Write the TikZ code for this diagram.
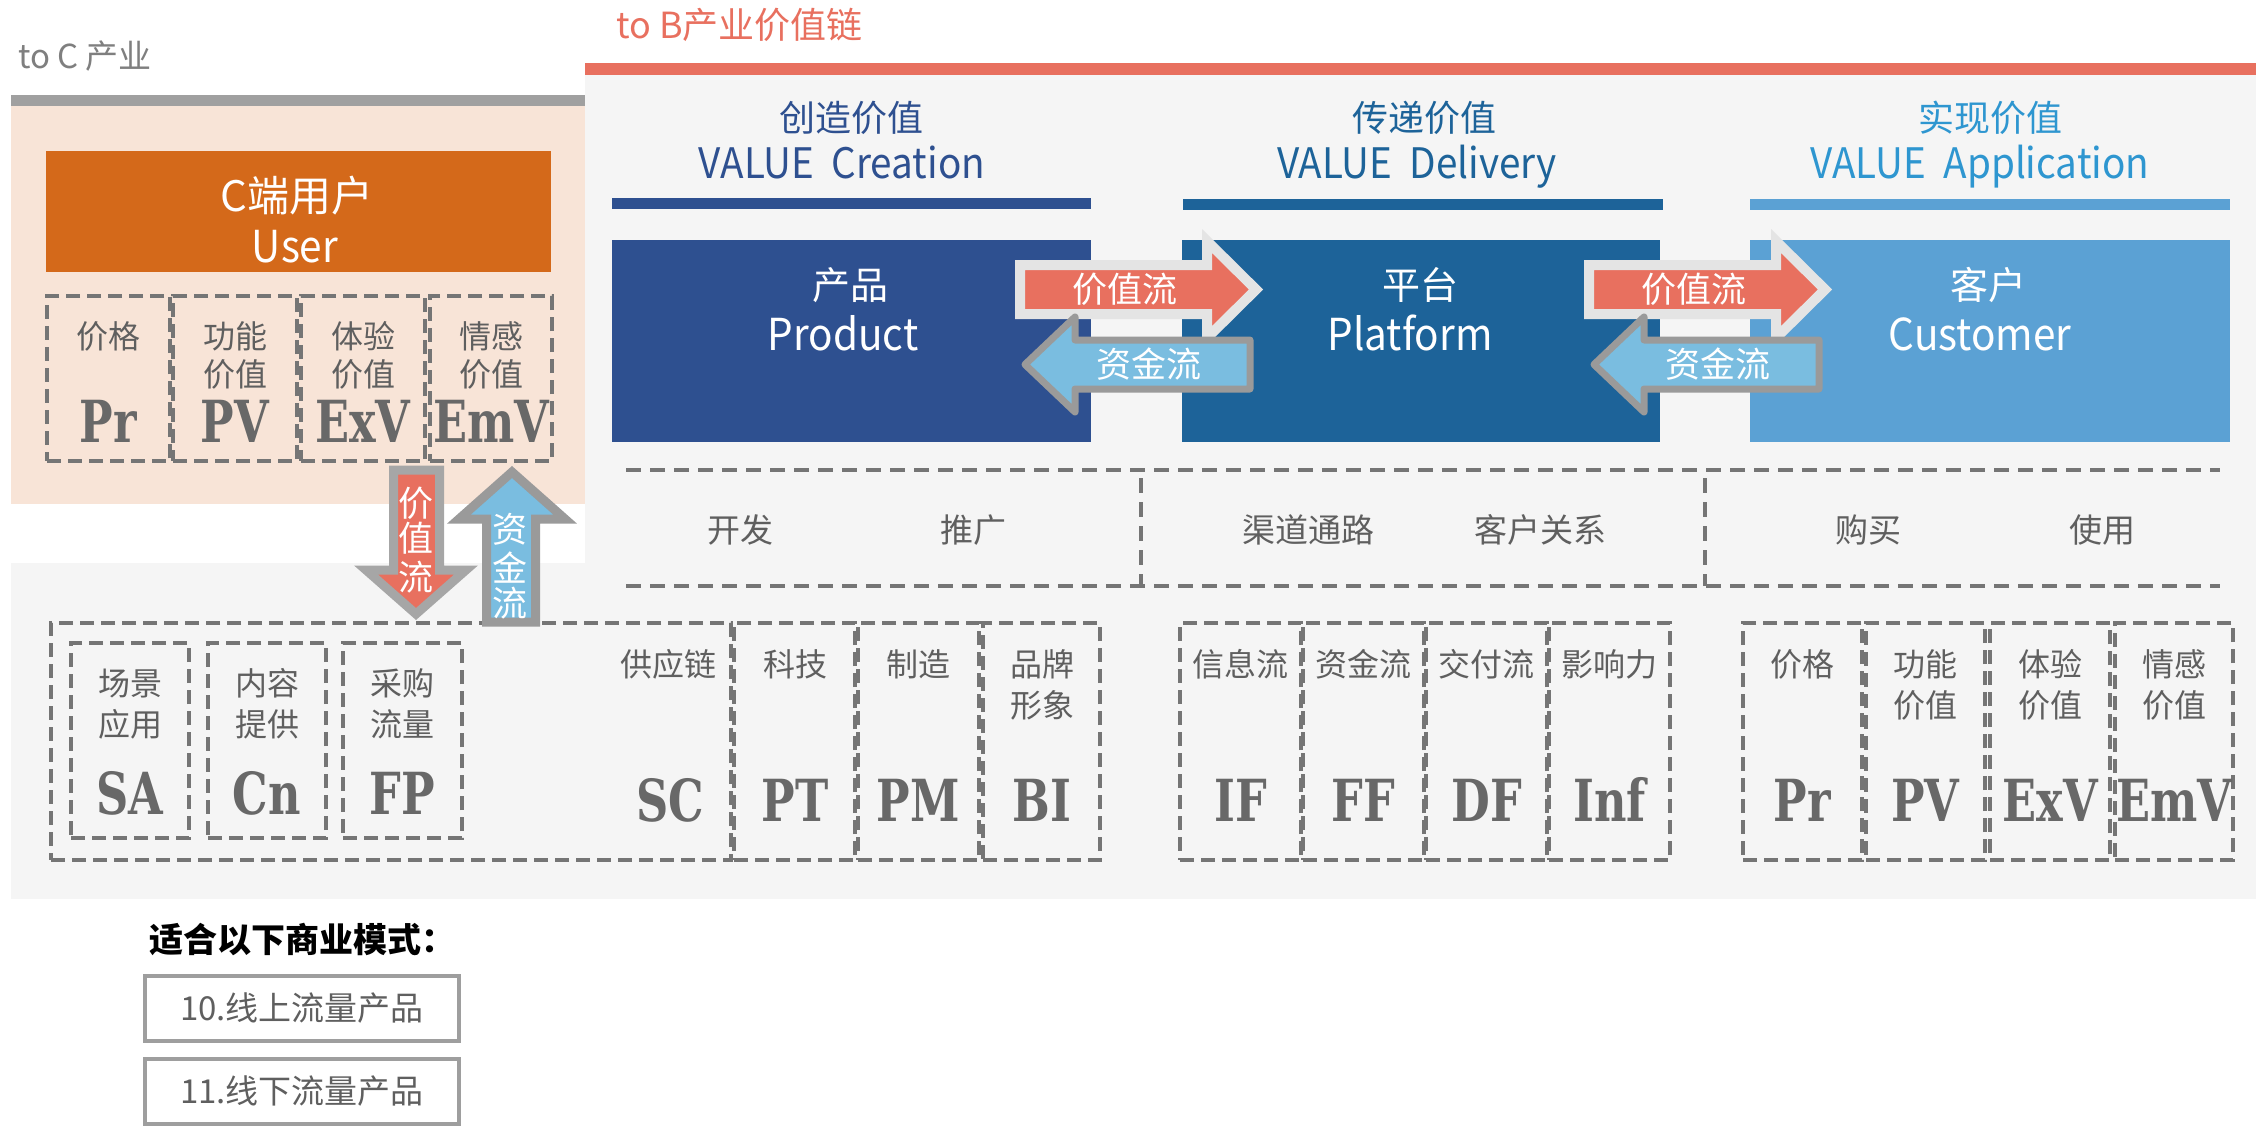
\documentclass[tikz,border=0pt]{standalone}
\usepackage{fontspec}
\setmainfont{Noto Sans CJK SC}
\newfontfamily\slabf{DejaVu Serif}
\usepackage{graphicx}
\definecolor{peach}{HTML}{F8E4D7}
\definecolor{orangeC}{HTML}{D4691A}
\definecolor{bgG}{HTML}{F5F5F5}
\definecolor{redC}{HTML}{E8705F}
\definecolor{barG}{HTML}{A0A0A0}
\definecolor{blueA}{HTML}{2E5090}
\definecolor{blueB}{HTML}{1D6399}
\definecolor{blueC}{HTML}{5BA1D4}
\definecolor{blueH}{HTML}{2E96D0}
\definecolor{arrowB}{HTML}{7ABDE0}
\definecolor{textG}{HTML}{5F5F5F}
\definecolor{bigG}{HTML}{686868}
\definecolor{titleG}{HTML}{7F7F7F}
\definecolor{dashG}{HTML}{757575}
\definecolor{outL}{HTML}{E4E4E4}
\definecolor{outG}{HTML}{9A9A9A}
\definecolor{outV}{HTML}{A6A6A6}
\definecolor{boxG}{HTML}{9E9E9E}
\newcommand\fsz[1]{\fontsize{#1}{#1}\selectfont}
\newcommand\bx[6][]{\node[anchor=north west,inner sep=0pt,outer sep=0pt,#1,minimum width={(#5-#3)*1pt},minimum height={(#6-#4)*1pt}] (#2) at (#3,#4) {};}
\newcommand\slabtxt[1]{{\slabf\bfseries\fsz{58}\scalebox{0.77}[1]{#1}}}
\newcommand\cond[1]{\scalebox{0.92}[1]{#1}}
\tikzset{
  t/.style={inner sep=0pt,anchor=base},
  dbox/.style={draw=dashG,line width=4pt,dash pattern=on 14pt off 7pt},
  mline/.style={draw=dashG,line width=3.5pt,dash pattern=on 15pt off 9pt},
  lbl/.style={t,font=\fsz{32},text=textG},
  big/.style={t,text=bigG},
  wt/.style={t,text=white},
}
\begin{document}
\begin{tikzpicture}[x=1pt,y=-1pt]
\useasboundingbox (0,0) rectangle (2267,1138);
% backgrounds
\bx[fill=bgG]{bgR}{585}{75}{2256}{899}
\bx[fill=bgG]{bgL}{11}{563}{585}{899}
\bx[fill=peach]{toC}{11}{106}{585}{504}
\bx[fill=barG]{barC}{11}{94.5}{585}{106}
\bx[fill=redC]{barB}{585}{63}{2256}{75}
% titles
\node[t,anchor=base west,font=\fsz{33},text=titleG] (tc) at (18,68) {to C 产业};
\node[t,anchor=base west,font=\fsz{36},text=redC] (tb) at (616,38) {to B产业价值链};
% headers
\node[t,font=\fsz{36},text=blueA] (h1) at (851,131) {创造价值};
\node[t,font=\fsz{42},text=blueA] (h1e) at (842,178) {\cond{VALUE\ \ Creation}};
\node[t,font=\fsz{36},text=blueB] (h2) at (1424,131) {传递价值};
\node[t,font=\fsz{42},text=blueB] (h2e) at (1417,178) {\cond{VALUE\ \ Delivery}};
\node[t,font=\fsz{36},text=blueH] (h3) at (1990,131) {实现价值};
\node[t,font=\fsz{42},text=blueH] (h3e) at (1980,178) {\cond{VALUE\ \ Application}};
\bx[fill=blueA]{l1}{612}{198}{1091}{209}
\bx[fill=blueB]{l2}{1183}{199}{1663}{210}
\bx[fill=blueC]{l3}{1750}{199}{2230}{210}
% main boxes
\bx[fill=blueA]{product}{612}{240}{1091}{442}
\bx[fill=blueB]{platform}{1182}{240}{1660}{442}
\bx[fill=blueC]{customer}{1750}{240}{2230}{442}
\node[wt,font=\fsz{38}] (pz) at (850,299) {产品};
\node[wt,font=\fsz{44}] (pe) at (843,350) {\cond{Product}};
\node[wt,font=\fsz{38}] (fz) at (1420,299) {平台};
\node[wt,font=\fsz{44}] (fe) at (1410,350) {\cond{Platform}};
\node[wt,font=\fsz{38}] (cz) at (1988,299) {客户};
\node[wt,font=\fsz{44}] (ce) at (1980,350) {\cond{Customer}};
% flow arrows between boxes
\foreach \d/\n in {0/a,569/b}{
  \draw[line width=10pt,draw=outL,fill=redC,line join=miter]
    (1020+\d,265) -- (1207+\d,265) -- (1207+\d,241) -- (1256+\d,289.5) -- (1207+\d,338) -- (1207+\d,314) -- (1020+\d,314) -- cycle;
  \draw[line width=7pt,draw=outG,fill=arrowB,line join=round]
    (1250+\d,340) -- (1075+\d,340) -- (1075+\d,317) -- (1025+\d,364.5) -- (1075+\d,412) -- (1075+\d,389) -- (1250+\d,389) -- cycle;
  \node[wt,font=\fsz{35}] (vf\n) at (1125+\d,302) {价值流};
  \node[wt,font=\fsz{35}] (mf\n) at (1149+\d,377) {资金流};
}
% user box
\bx[fill=orangeC]{user}{46}{151}{551}{272}
\node[wt,font=\fsz{42}] (uz) at (297,211) {C端用户};
\node[wt,font=\fsz{44}] (ue) at (295,262) {\cond{User}};
% user value boxes
\bx[dbox]{u1}{47}{296}{170}{461}
\bx[dbox]{u2}{173}{296}{297}{461}
\bx[dbox]{u3}{301}{296}{425}{461}
\bx[dbox]{u4}{430}{296}{552}{461}
\node[lbl] (u1a) at (108.5,348.5) {价格};
\node[lbl] (u2a) at (235,348.5) {功能};
\node[lbl] (u2b) at (235,386) {价值};
\node[lbl] (u3a) at (363,348.5) {体验};
\node[lbl] (u3b) at (363,386) {价值};
\node[lbl] (u4a) at (491,348.5) {情感};
\node[lbl] (u4b) at (491,386) {价值};
\node[big] (u1c) at (108.5,442) {\slabtxt{Pr}};
\node[big] (u2c) at (235,442) {\slabtxt{PV}};
\node[big] (u3c) at (363,442) {\slabtxt{ExV}};
\node[big] (u4c) at (491,442) {\slabtxt{EmV}};
% middle dashed row
\coordinate (m1) at (626,470); \coordinate (m2) at (2220,470);
\coordinate (m3) at (626,586); \coordinate (m4) at (2220,586);
\coordinate (v1) at (1141,478); \coordinate (v2) at (1141,586);
\coordinate (v3) at (1705,478); \coordinate (v4) at (1705,586);
\draw[mline] (m1) -- (m2);
\draw[mline] (m3) -- (m4);
\draw[mline] (v1) -- (v2);
\draw[mline] (v3) -- (v4);
\node[t,font=\fsz{33},text=textG] (s1) at (740,542) {开发};
\node[t,font=\fsz{33},text=textG] (s2) at (973,542) {推广};
\node[t,font=\fsz{33},text=textG] (s3) at (1308,542) {渠道通路};
\node[t,font=\fsz{33},text=textG] (s4) at (1540,542) {客户关系};
\node[t,font=\fsz{33},text=textG] (s5) at (1868,542) {购买};
\node[t,font=\fsz{33},text=textG] (s6) at (2102,542) {使用};
% bottom boxes: supply chain
\bx[dbox]{sc}{51}{623}{731}{860}
\bx[dbox]{sa}{71}{643}{189}{838}
\bx[dbox]{cn}{208}{643}{326}{838}
\bx[dbox]{fp}{343}{643}{462}{838}
\bx[dbox]{pt}{734}{623}{855}{860}
\bx[dbox]{pm}{858}{623}{979}{860}
\bx[dbox]{bi}{983}{623}{1100}{860}
\node[lbl] (saa) at (130,695) {场景};
\node[lbl] (sab) at (130,736) {应用};
\node[lbl] (cna) at (267,695) {内容};
\node[lbl] (cnb) at (267,736) {提供};
\node[lbl] (fpa) at (402,695) {采购};
\node[lbl] (fpb) at (402,736) {流量};
\node[lbl] (sca) at (668,676) {供应链};
\node[lbl] (pta) at (795,676) {科技};
\node[lbl] (pma) at (918,676) {制造};
\node[lbl] (bia) at (1042,676) {品牌};
\node[lbl] (bib) at (1042,717) {形象};
\node[big] (sac) at (130,814) {\slabtxt{SA}};
\node[big] (cnc) at (267,814) {\slabtxt{Cn}};
\node[big] (fpc) at (402,814) {\slabtxt{FP}};
\node[big] (scc) at (670,821) {\slabtxt{SC}};
\node[big] (ptc) at (795,821) {\slabtxt{PT}};
\node[big] (pmc) at (918,821) {\slabtxt{PM}};
\node[big] (bic) at (1042,821) {\slabtxt{BI}};
% delivery flows
\bx[dbox]{if}{1180}{623}{1301}{860}
\bx[dbox]{ff}{1303}{623}{1424}{860}
\bx[dbox]{df}{1426}{623}{1547}{860}
\bx[dbox]{inf}{1549}{623}{1670}{860}
\node[lbl] (ifa) at (1240.5,676) {信息流};
\node[lbl] (ffa) at (1363.5,676) {资金流};
\node[lbl] (dfa) at (1486.5,676) {交付流};
\node[lbl] (infa) at (1609.5,676) {影响力};
\node[big] (ifc) at (1240.5,821) {\slabtxt{IF}};
\node[big] (ffc) at (1363.5,821) {\slabtxt{FF}};
\node[big] (dfc) at (1486.5,821) {\slabtxt{DF}};
\node[big] (infc) at (1609.5,821) {\slabtxt{Inf}};
% customer values
\bx[dbox]{c1}{1743}{623}{1862}{860}
\bx[dbox]{c2}{1866}{623}{1985}{860}
\bx[dbox]{c3}{1990}{623}{2110}{860}
\bx[dbox]{c4}{2115}{623}{2233}{860}
\node[lbl] (c1a) at (1802.5,676) {价格};
\node[lbl] (c2a) at (1925.5,676) {功能};
\node[lbl] (c2b) at (1925.5,717) {价值};
\node[lbl] (c3a) at (2050,676) {体验};
\node[lbl] (c3b) at (2050,717) {价值};
\node[lbl] (c4a) at (2174,676) {情感};
\node[lbl] (c4b) at (2174,717) {价值};
\node[big] (c1c) at (1802.5,821) {\slabtxt{Pr}};
\node[big] (c2c) at (1925.5,821) {\slabtxt{PV}};
\node[big] (c3c) at (2050,821) {\slabtxt{ExV}};
\node[big] (c4c) at (2174,821) {\slabtxt{EmV}};
% vertical arrows between user and supply chain
\draw[line width=9pt,draw=outV,fill=redC,line join=miter]
  (393.5,470) -- (439.5,470) -- (439.5,570) -- (466,570) -- (416,614) -- (366,570) -- (393.5,570) -- cycle;
\draw[line width=9pt,draw=outG,fill=arrowB,line join=miter]
  (486.5,622) -- (486.5,519) -- (459,519) -- (512,472) -- (565,519) -- (535.5,519) -- (535.5,622) -- cycle;
\node[wt,font=\fsz{35}] (d1) at (416,516) {价};
\node[wt,font=\fsz{35}] (d2) at (416,551) {值};
\node[wt,font=\fsz{35}] (d3) at (416,590) {流};
\node[wt,font=\fsz{35}] (e1) at (510,542) {资};
\node[wt,font=\fsz{35}] (e2) at (510,581) {金};
\node[wt,font=\fsz{35}] (e3) at (510,616) {流};
% business models
\node[t,font=\fsz{34}\bfseries,text=black] (bm) at (302,952) {适合以下商业模式：};
\bx[draw=boxG,line width=4pt]{m10}{145}{976}{459}{1041}
\bx[draw=boxG,line width=4pt]{m11}{145}{1059}{459}{1124}
\node[t,font=\fsz{33},text=textG] (m10t) at (302,1020) {10.线上流量产品};
\node[t,font=\fsz{33},text=textG] (m11t) at (302,1103) {11.线下流量产品};
\end{tikzpicture}
\end{document}
